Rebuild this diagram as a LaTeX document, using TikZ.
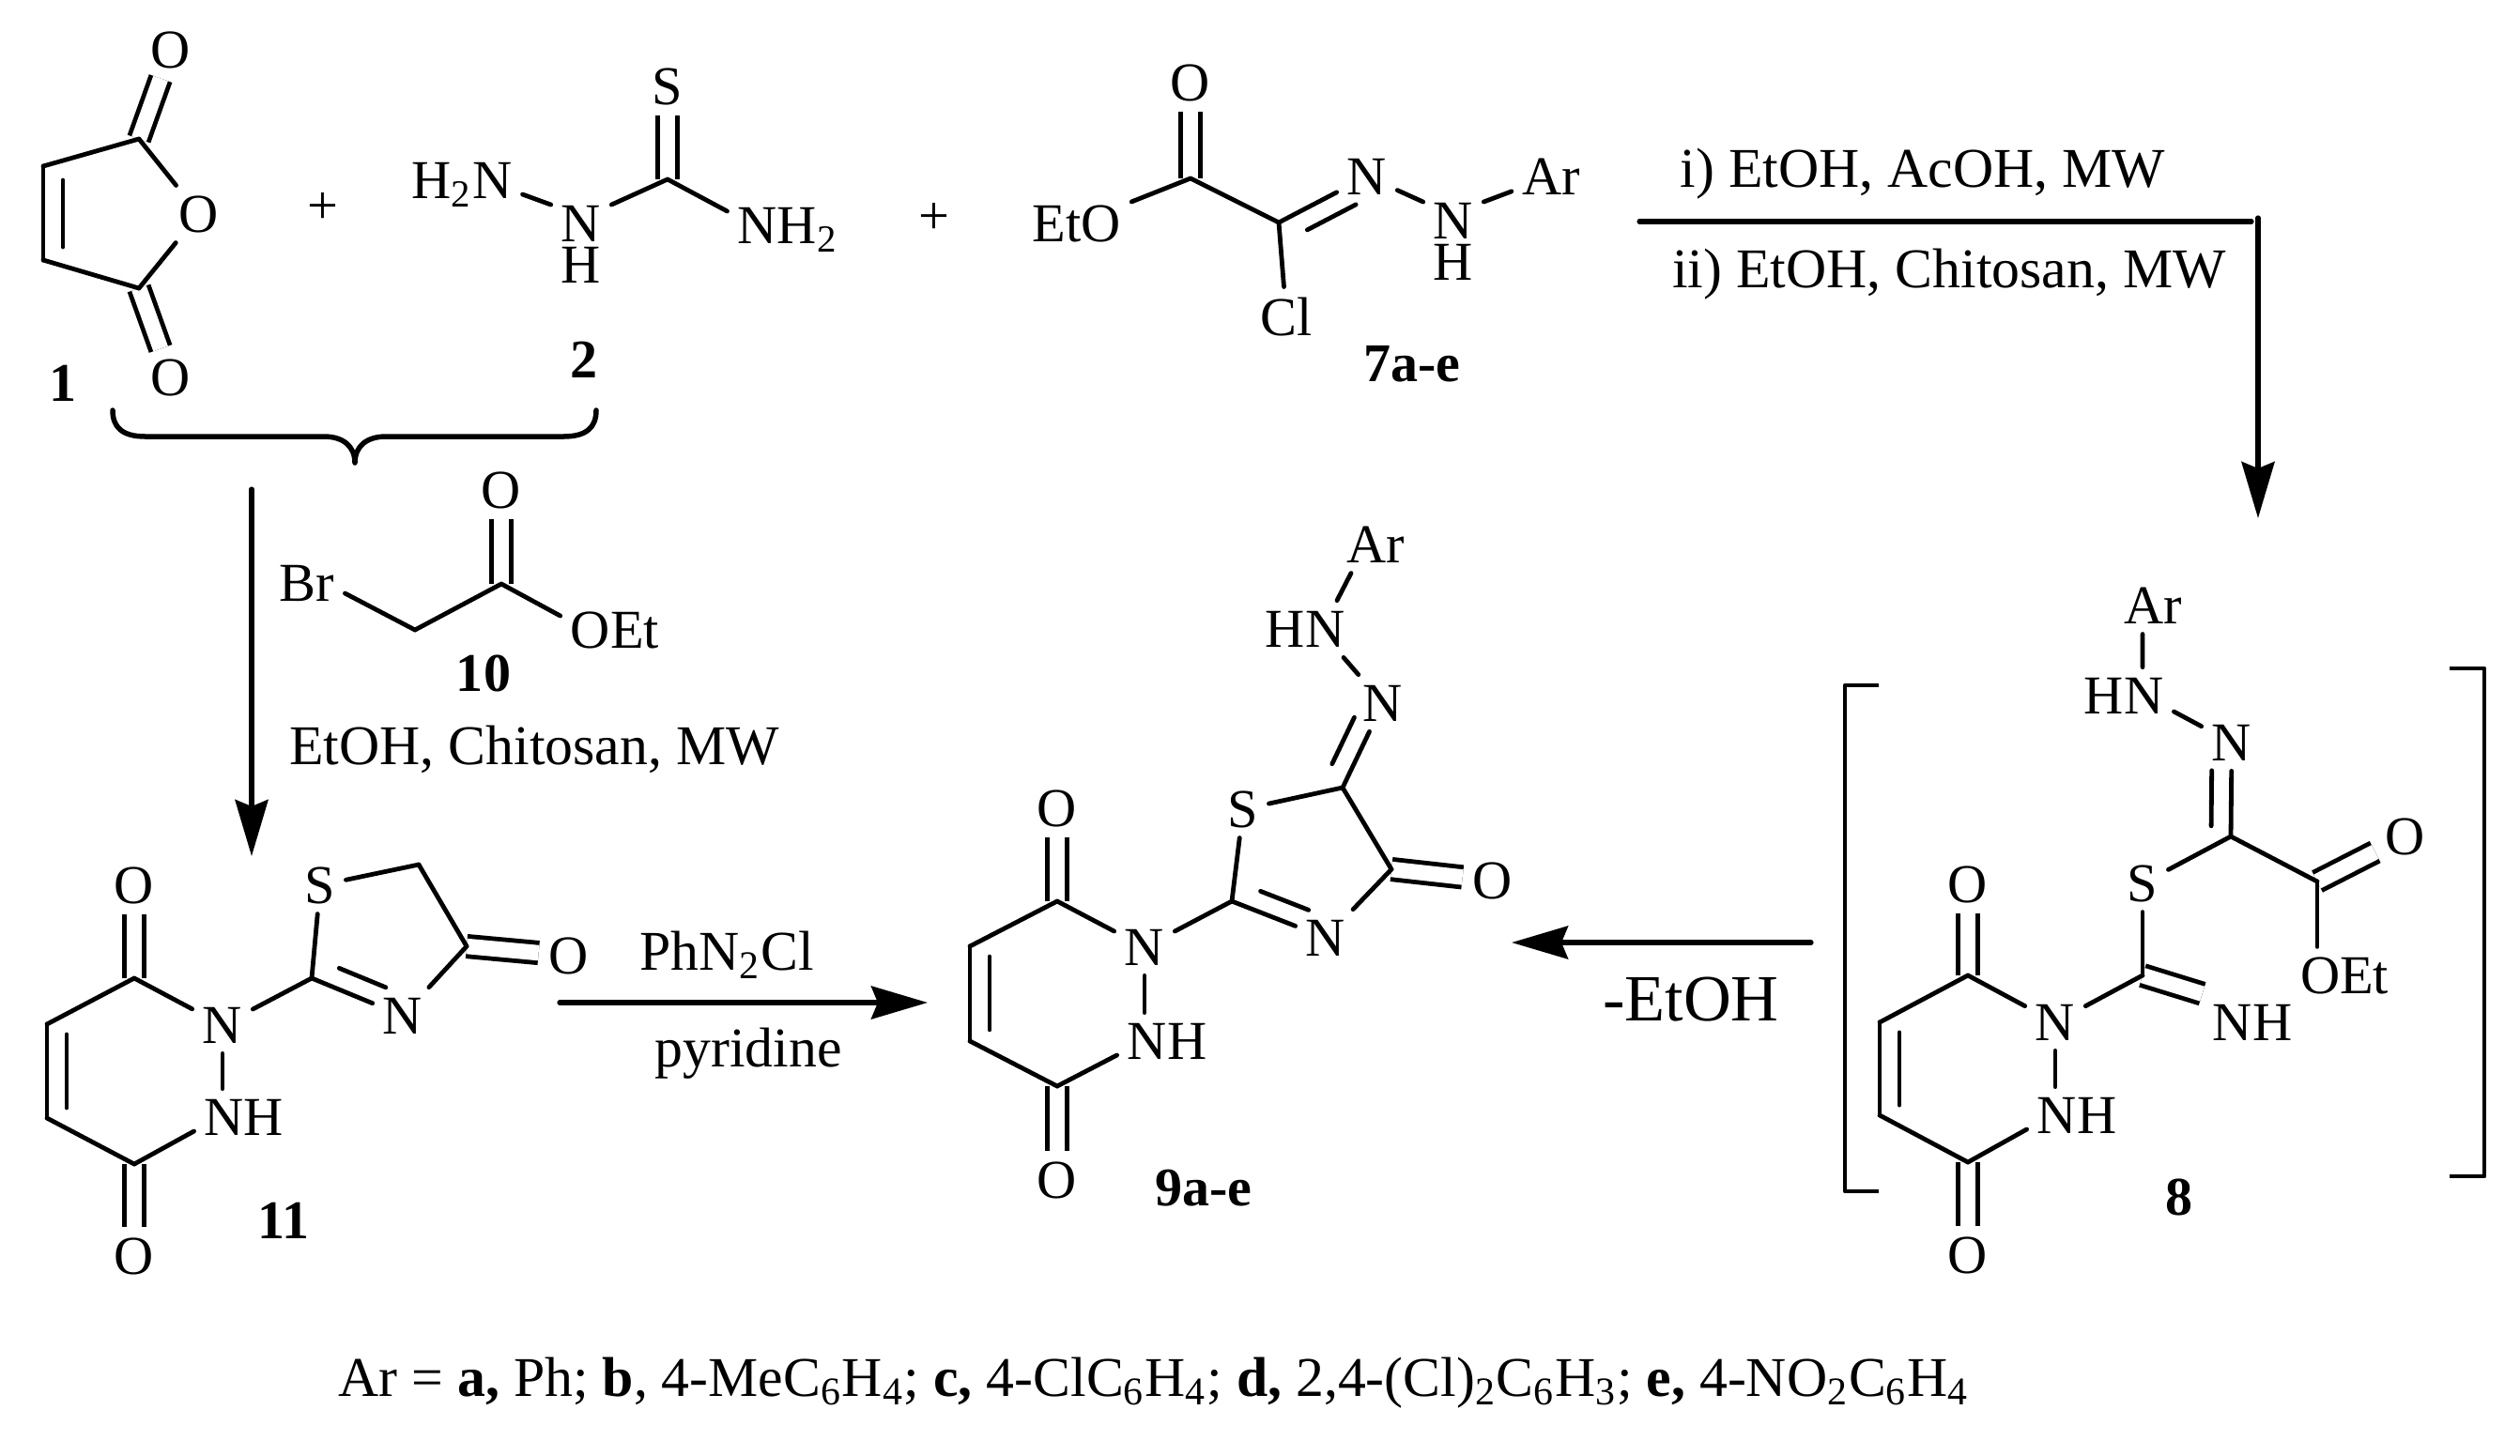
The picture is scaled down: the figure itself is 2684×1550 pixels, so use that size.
\documentclass[tikz,border=0pt]{standalone}
\usepackage{fontspec}
\setmainfont{Liberation Serif}
\usetikzlibrary{arrows.meta,calc}
\tikzset{
	atom/.style={inner sep=3pt,text depth=0pt,font=\fontsize{16.6}{19}\selectfont},
	stack/.style={inner sep=3pt,anchor=north,align=center,font=\fontsize{16.6}{12.5}\selectfont},
	txt/.style={inner sep=0pt,anchor=base,font=\fontsize{17}{20}\selectfont},
	cpd/.style={inner sep=0pt,font=\fontsize{16.5}{20}\selectfont\bfseries},
	bond/.style={line width=.048cm},
	dbl/.style={line width=.048cm,double,double distance=.165cm,line cap=butt},
	rxn/.style={line width=.052cm,->}
}
\newcommand{\innerbond}[4]{\draw[bond] ($(#1)!#3!(#2)!.21cm!90:(#2)$) -- ($(#2)!#4!(#1)!.21cm!-90:(#1)$);}
\begin{document}
\begin{tikzpicture}[line join=round,line cap=round,x=.01cm,y=-.01cm,>={Stealth[length=.6cm,width=.35cm,inset=.07cm]}]
	\useasboundingbox (0,0) rectangle (2684,1550);
	% atoms and carbons
	\foreach \n/\x/\y/\t in {
		malOa/182/53/O,malOb/212/228/O,malOc/182/402/O,
		tscH/492/192/{H\textsubscript{2}N},tscS/711/92/S,tscB/839/240/{NH\textsubscript{2}},
		hydE/1147/238/EtO,hydO/1268/88/O,hydCl/1370/337/Cl,hydNa/1456/188/N,hydAr/1652/188/Ar,
		broBr/327/621/Br,broO/534/522/O,broE/655/671/OEt,
		thzOa/143/943/O,thzOb/143/1338/O,thzNa/237/1092/N,thzNb/260/1190/NH,thzS/341/943/S,thzNc/429/1082/N,thzOc/606/1018/O,
		azoOa/1126/861/O,azoOb/1126/1257/O,azoNa/1219/1009/N,azoNb/1243/1109/NH,azoS/1324/862/S,azoNc/1412/999/N,azoOc/1590/938/O,
		azoNd/1473/749/N,azoHn/1390/670/HN,azoAr/1465/580/Ar,
		imiOa/2096/942/O,imiOb/2096/1337/O,imiNa/2189/1089/N,imiNb/2212/1188/NH,imiS/2282/941/S,imiNc/2399/1089/NH,
		imiNd/2377/791/N,imiHn/2262/741/HN,imiAr/2293/645/Ar,imiOc/2562/891/O,imiE/2497/1039/OEt,
		plusa/344/222/+,plusb/995/233/+}
		\node[atom] (\n) at (\x,\y) {\t};
	\node[stack] (tscN) at (619,208) {N\\H};
	\node[stack] (hydNb) at (1548,205) {N\\H};
	\foreach \n/\x/\y in {
		malCa/148/148,malCb/46/177,malCc/46/277,malCd/148/307,
		tscC/711/191,hydCa/1268/190,hydCb/1362/237,broCa/442/671,broCb/534/622,
		thzCa/143/1042,thzCb/50/1091,thzCc/50/1191,thzCd/143/1240,thzCe/332/1042,thzCf/497/1008,thzCg/446/921,
		azoCa/1126/960,azoCb/1033/1008,azoCc/1033/1109,azoCd/1126/1157,azoCe/1312/960,azoCf/1482/926,azoCg/1430/839,
		imiCa/2096/1039,imiCb/2002/1089,imiCc/2002/1188,imiCd/2096/1238,imiCe/2282/1039,imiCf/2376/891,imiCg/2468/939}
		\coordinate (\n) at (\x,\y);
	% compound numbers
	\node[cpd] (cpda) at (67,408) {1};
	\node[cpd] (cpdb) at (622,383) {2};
	\node[cpd] (cpdc) at (1504,388) {7a-e};
	\node[cpd] (cpdd) at (515,717) {10};
	\node[cpd] (cpde) at (302,1300) {11};
	\node[cpd] (cpdf) at (1282,1266) {9a-e};
	\node[cpd] (cpdg) at (2321,1275) {8};
	% double bonds first
	\foreach \a/\b in {malCa/malOa,malCd/malOc,tscC/tscS,hydCa/hydO,broCb/broO,thzCa/thzOa,thzCd/thzOb,thzCf/thzOc,
		azoCa/azoOa,azoCd/azoOb,azoCf/azoOc,imiCa/imiOa,imiCd/imiOb,imiCg/imiOc}
		\draw[dbl] (\a)--(\b);
	\draw[dbl] (imiCe)--(imiNc.north west);
	% single bonds
	\foreach \a/\b in {malCa/malCb,malCb/malCc,malCc/malCd,malCa/malOb,malCd/malOb,
		hydE/hydCa,hydCa/hydCb,hydCb/hydCl,hydCb/hydNa,broCa/broCb,
		thzCa/thzCb,thzCb/thzCc,thzCc/thzCd,thzCa/thzNa,thzNa/thzCe,thzCe/thzS,thzS/thzCg,thzCg/thzCf,thzCf/thzNc,thzCe/thzNc,
		azoCa/azoCb,azoCb/azoCc,azoCc/azoCd,azoCa/azoNa,azoNa/azoCe,azoCe/azoS,azoS/azoCg,azoCg/azoCf,azoCf/azoNc,azoCe/azoNc,azoCg/azoNd,
		imiCa/imiCb,imiCb/imiCc,imiCc/imiCd,imiCa/imiNa,imiNa/imiCe,imiCe/imiS,imiS/imiCf,imiCf/imiCg,imiCf/imiNd}
		\draw[bond] (\a)--(\b);
	\draw[bond] ([yshift=-.15cm]tscH.east)--([yshift=-.1cm]tscN.north west);
	\draw[bond] ([yshift=-.1cm]tscN.north east)--(tscC);
	\draw[bond] (tscC)--([yshift=.15cm]tscB.west);
	\draw[bond] (hydNa)--([yshift=-.1cm]hydNb.north west);
	\draw[bond] ([yshift=-.1cm]hydNb.north east)--(hydAr);
	\draw[bond] ([yshift=-.11cm]broBr.east)--(broCa);
	\draw[bond] (broCb)--([yshift=.15cm]broE.west);
	\draw[bond] (thzNa)--(thzNa |- thzNb.north);
	\draw[bond] (thzCd)--([yshift=-.15cm]thzNb.west);
	\draw[bond] (azoNa)--(azoNa |- azoNb.north);
	\draw[bond] (azoCd)--([yshift=-.15cm]azoNb.west);
	\draw[bond] ([xshift=.34cm]azoHn.north)--([xshift=-.26cm]azoAr.south);
	\draw[bond] ([xshift=.41cm]azoHn.south)--(azoNd);
	\draw[bond] (imiNa)--(imiNa |- imiNb.north);
	\draw[bond] (imiCd)--([yshift=-.15cm]imiNb.west);
	\draw[bond] ([xshift=-.11cm]imiAr.south)--([xshift=.2cm]imiHn.north);
	\draw[bond] ([yshift=-.17cm]imiHn.east)--(imiNd);
	\draw[bond] (imiCg)--(imiCg |- imiE.north);
	% inner lines of the double bonds
	\innerbond{malCb}{malCc}{.15}{.14}
	\innerbond{hydNa}{hydCb}{.23}{.22}
	\innerbond{thzCb}{thzCc}{.11}{.11}
	\innerbond{thzCe}{thzNc}{.22}{.27}
	\innerbond{azoCb}{azoCc}{.11}{.12}
	\innerbond{azoCe}{azoNc}{.23}{.26}
	\innerbond{azoCg}{azoNd}{.18}{.27}
	\innerbond{imiCb}{imiCc}{.11}{.11}
	\innerbond{imiCf}{imiNd}{.11}{.30}
	% brace under 1 and 2
	\coordinate (bra) at (120,437);
	\coordinate (brb) at (378,493);
	\coordinate (brc) at (635,437);
	\draw[line width=.055cm] (bra) .. controls (120,455) and (130,465) .. (155,465) -- (345,465)
		.. controls (365,465) and (378,475) .. (brb) .. controls (378,475) and (391,465) .. (411,465) -- (600,465)
		.. controls (625,465) and (635,455) .. (brc);
	% brackets of 8
	\coordinate (lba) at (2001,730);
	\coordinate (lbb) at (1965,730);
	\coordinate (lbc) at (1965,1269);
	\coordinate (lbd) at (2001,1269);
	\coordinate (rba) at (2609,712);
	\coordinate (rbb) at (2646,712);
	\coordinate (rbc) at (2646,1253);
	\coordinate (rbd) at (2609,1253);
	\draw[line width=.048cm,line cap=butt] (lba)--(lbb)--(lbc)--(lbd);
	\draw[line width=.048cm,line cap=butt] (rba)--(rbb)--(rbc)--(rbd);
	% arrows
	\coordinate (arra) at (268,521);
	\coordinate (arrb) at (268,912);
	\coordinate (arrc) at (596,1068);
	\coordinate (arrd) at (988,1068);
	\coordinate (arre) at (1929,1004);
	\coordinate (arrf) at (1610,1004);
	\coordinate (arrg) at (1746,236);
	\coordinate (arrh) at (2398,236);
	\coordinate (arri) at (2405,232);
	\coordinate (arrj) at (2405,552);
	\draw[rxn] (arra)--(arrb);
	\draw[rxn] (arrc)--(arrd);
	\draw[rxn] (arre)--(arrf);
	\draw[line width=.052cm] (arrg)--(arrh);
	\draw[rxn] (arri)--(arrj);
	% reaction texts
	\node[txt] (rga) at (2048,199) {i) EtOH, AcOH, MW};
	\node[txt] (rgb) at (2076,306) {ii) EtOH, Chitosan, MW};
	\node[txt] (rgc) at (569,814) {EtOH, Chitosan, MW};
	\node[txt] (rgd) at (774,1033) {PhN\textsubscript{2}Cl};
	\node[txt] (rge) at (797,1136) {pyridine};
	\node[txt,font=\fontsize{20}{24}\selectfont] (rgf) at (1801,1087) {-EtOH};
	\node[txt] (arkey) at (1229,1487) {Ar = \textbf{a,} Ph; \textbf{b}, 4-MeC\textsubscript{6}H\textsubscript{4}; \textbf{c,} 4-ClC\textsubscript{6}H\textsubscript{4}; \textbf{d,} 2,4-(Cl)\textsubscript{2}C\textsubscript{6}H\textsubscript{3}; \textbf{e,} 4-NO\textsubscript{2}C\textsubscript{6}H\textsubscript{4}};
\end{tikzpicture}
\end{document}
